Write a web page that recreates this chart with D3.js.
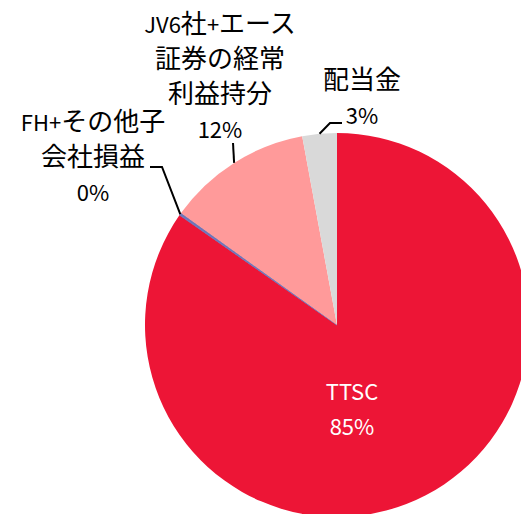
<!DOCTYPE html>
<meta charset="utf-8">
<style>
body { margin: 0; background: #fff; }
text { font-family: "Noto Sans CJK JP", "Noto Sans", sans-serif; }
.leader { fill: none; stroke: #000; stroke-width: 2px; }
</style>
<body>
<script src="https://d3js.org/d3.v7.min.js"></script>
<script>

// data, clockwise from 12 o'clock
var names = ["TTSC", "FH+その他子会社損益", "JV6社+エース証券の経常利益持分", "配当金"];
var values = [84.7, 0.2, 12.2, 2.9];
var pctLabels = ["85%", "0%", "12%", "3%"];
var labelLines = [["TTSC"], ["FH+その他子", "会社損益"], ["JV6社+エース", "証券の経常", "利益持分"], ["配当金"]];
var colors = ["#ED1536", "#6F74B8", "#FF9A9A", "#D9D9D9"];

var width = 521, height = 514;
var cx = 337, cy = 325, radius = 192;

var svg = d3.select("body").append("svg")
    .attr("width", width)
    .attr("height", height);

var g = svg.append("g")
    .attr("transform", "translate(" + cx + "," + cy + ")");

var pie = d3.pie().sort(null).value(function(d) { return d; });
var arcs = pie(values);

var arc = d3.arc().innerRadius(0).outerRadius(radius);

g.selectAll("path.slice")
    .data(arcs)
  .enter().append("path")
    .attr("class", "slice")
    .attr("d", arc)
    .attr("fill", function(d, i) { return colors[i]; })
    .attr("stroke", function(d, i) { return i == 1 ? colors[i] : "none"; })
    .attr("stroke-width", 1);

// point on the rim at the slice's mid angle
function rim(d) {
  var a = (d.startAngle + d.endAngle) / 2;
  return [radius * Math.sin(a), -radius * Math.cos(a)];
}

// label layout (relative to centre): x centre, y of first line, leader path bend points
var layout = [
  {x: 15, y: 75, inside: true},
  {x: -244, y: -194, bend: [[-175, -158], [-187, -158]]},
  {x: -117, y: -292, bend: [[-104, -182]]},
  {x: 25, y: -236, bend: [[-7, -202], [5, -202]]}
];
var lineH = 35;

// latin runs look smaller than the kana/kanji in the original
function addRuns(tspan, s) {
  var runs = s.match(/[\u3000-\u9fff]+|[^\u3000-\u9fff]+/g);
  runs.forEach(function(r) {
    tspan.append("tspan")
        .attr("font-size", /[\u3000-\u9fff]/.test(r) ? 26 : 22)
        .text(r);
  });
}

arcs.forEach(function(d, i) {
  var L = layout[i];
  var lines = labelLines[i].concat([pctLabels[i]]);
  var t = g.append("text")
      .attr("text-anchor", "middle")
      .attr("font-size", 22)
      .attr("fill", L.inside ? "#fff" : "#000");
  lines.forEach(function(s, k) {
    var ts = t.append("tspan")
        .attr("x", L.x)
        .attr("y", L.y + k * lineH);
    addRuns(ts, s);
  });
  if (L.bend) {
    var p = rim(d);
    var pts = [p].concat(L.bend);
    g.append("path")
        .attr("class", "leader")
        .attr("d", d3.line()(pts));
  }
});

</script>
</body>
